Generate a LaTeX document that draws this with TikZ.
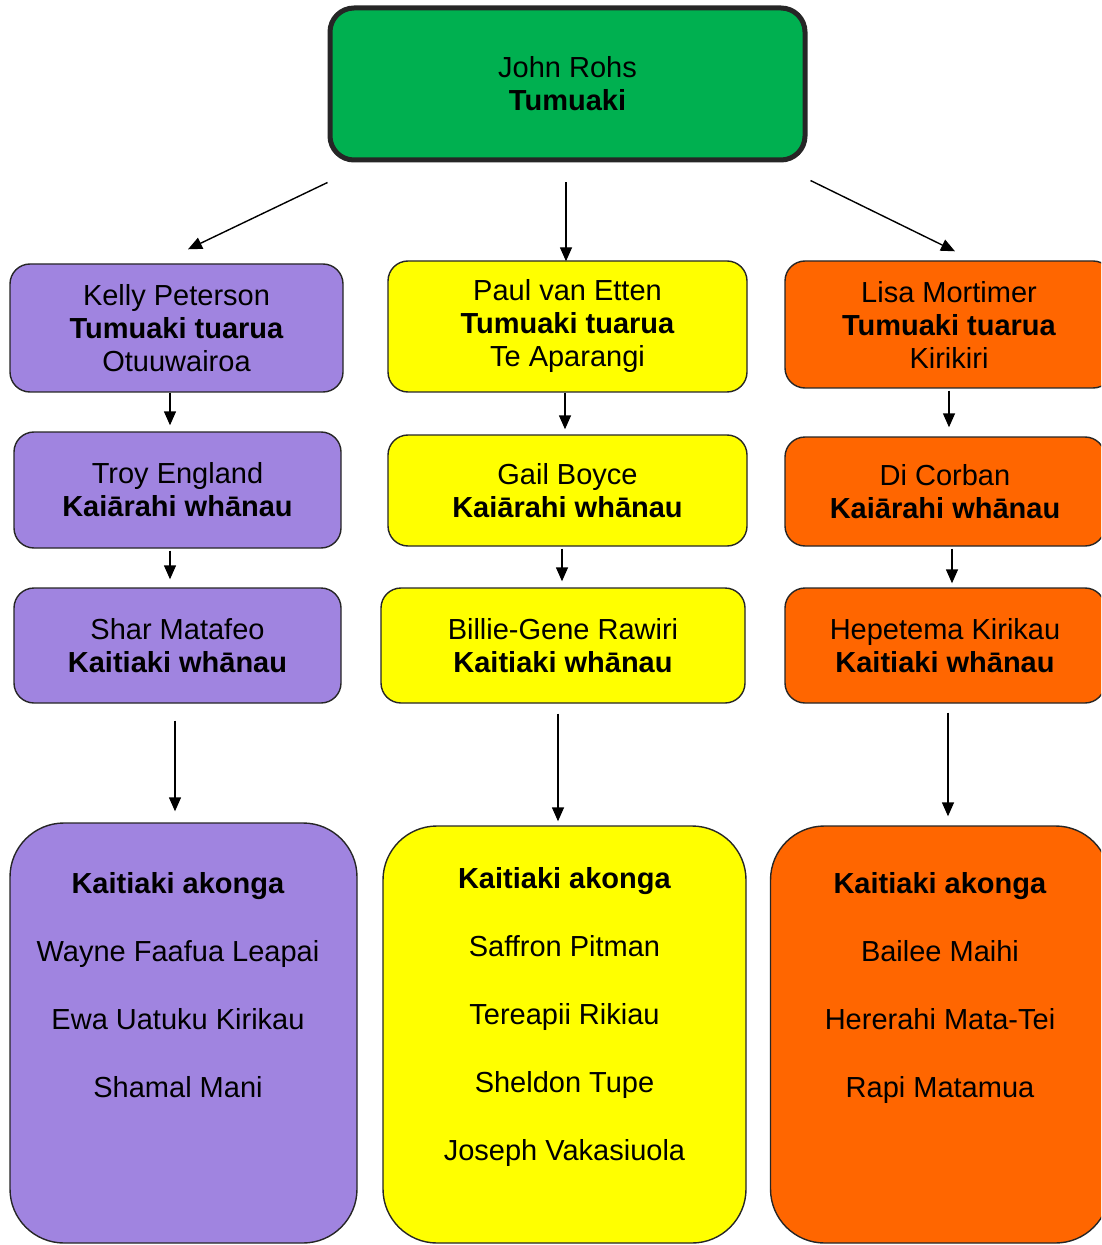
\documentclass[tikz,border=0pt]{standalone}
\usepackage{fontspec}
\setmainfont{Liberation Sans}
\usetikzlibrary{positioning, arrows.meta}

\definecolor{bossgreen}{HTML}{00B050}
\definecolor{otupurple}{HTML}{A084E0}
\definecolor{apayellow}{HTML}{FFFF00}
\definecolor{kiriorange}{HTML}{FF6600}

\tikzset{
  box/.style={draw=black!85, line width=0.7pt, rounded corners=10pt, align=center,
    inner sep=0pt, font=\fontsize{14.5}{16.5}\selectfont},
  bigbox/.style={box, rounded corners=27pt},
  listtext/.style={align=center, inner sep=0pt, font=\fontsize{14.5}{34}\selectfont},
  arr/.style={-{Triangle[length=7pt,width=6pt]}, line width=0.7pt},
}

\begin{document}
\begin{tikzpicture}[x=0.5pt, y=-0.5pt]
    \useasboundingbox (0,0) rectangle (1101,1245);
    \clip (0,0) rectangle (1101,1245);

    % Tumuaki at the top
    \node (boss) [box, fill=bossgreen, line width=2.5pt, rounded corners=12pt,
      minimum width=237.5pt, minimum height=76pt] at (567.5,84) {John Rohs\\\textbf{Tumuaki}};

    % Tumuaki tuarua (one per column)
    \node (kelly) [box, fill=otupurple, minimum width=166.5pt, minimum height=64pt] at (176.5,328)
      {Kelly Peterson\\\textbf{Tumuaki tuarua}\\Otuuwairoa};
    \node (paul) [box, fill=apayellow, minimum width=179.5pt, minimum height=65.5pt] at (567.5,326.5)
      {Paul van Etten\\\textbf{Tumuaki tuarua}\\Te Aparangi};
    \node (lisa) [box, fill=kiriorange, minimum width=164pt, minimum height=63.5pt] at (949,324.5)
      {Lisa Mortimer\\\textbf{Tumuaki tuarua}\\Kirikiri};

    % Kaiarahi whanau
    \node (troy) [box, fill=otupurple, minimum width=163.5pt, minimum height=58pt] at (177.5,490)
      {Troy England\\\textbf{Kaiārahi whānau}};
    \node (gail) [box, fill=apayellow, minimum width=179.5pt, minimum height=55.5pt] at (567.5,490.5)
      {Gail Boyce\\\textbf{Kaiārahi whānau}};
    \node (di) [box, fill=kiriorange, minimum width=160pt, minimum height=54.5pt] at (945,491.5)
      {Di Corban\\\textbf{Kaiārahi whānau}};

    % Kaitiaki whanau
    \node (shar) [box, fill=otupurple, minimum width=163.5pt, minimum height=57.5pt] at (177.5,645.5)
      {Shar Matafeo\\\textbf{Kaitiaki whānau}};
    \node (billie) [box, fill=apayellow, minimum width=182pt, minimum height=57.5pt] at (563,645.5)
      {Billie-Gene Rawiri\\\textbf{Kaitiaki whānau}};
    \node (hep) [box, fill=kiriorange, minimum width=160pt, minimum height=57.5pt] at (945,645.5)
      {Hepetema Kirikau\\\textbf{Kaitiaki whānau}};

    % Kaitiaki akonga boxes and their lists
    \node (akP) [bigbox, fill=otupurple, minimum width=173.5pt, minimum height=210pt] at (183.5,1033) {};
    \node (akY) [bigbox, fill=apayellow, minimum width=181.5pt, minimum height=208.5pt] at (564.5,1034.5) {};
    \node (akO) [bigbox, fill=kiriorange, minimum width=169.5pt, minimum height=208.5pt] at (940,1034.5) {};

    \node (akPlist) [listtext, below=25pt of akP.north, xshift=-2.75pt]
      {\textbf{Kaitiaki akonga}\\Wayne Faafua Leapai\\Ewa Uatuku Kirikau\\Shamal Mani};
    \node (akYlist) [listtext, below=21pt of akY.north]
      {\textbf{Kaitiaki akonga}\\Saffron Pitman\\Tereapii Rikiau\\Sheldon Tupe\\Joseph Vakasiuola};
    \node (akOlist) [listtext, below=23.5pt of akO.north]
      {\textbf{Kaitiaki akonga}\\Bailee Maihi\\Hererahi Mata-Tei\\Rapi Matamua};

    % Arrows from the Tumuaki
    \draw[arr] ([yshift=-10pt]boss.south west) -- ([xshift=5.75pt,yshift=7pt]kelly.north);
    \draw[arr] ([xshift=-0.75pt,yshift=-10pt]boss.south) -- ([xshift=-0.75pt,yshift=-0.5pt]paul.north);
    \draw[arr] ([xshift=1.5pt,yshift=-9pt]boss.south east) -- ([xshift=3pt,yshift=4.5pt]lisa.north);

    % Arrows down each column
    \draw[arr] ([xshift=-3.25pt]kelly.south) -- ([xshift=-3.75pt,yshift=3pt]troy.north);
    \draw[arr] ([xshift=-1.25pt]paul.south) -- ([xshift=-1.25pt,yshift=2.5pt]gail.north);
    \draw[arr] ([yshift=-1pt]lisa.south) -- ([xshift=2pt,yshift=4.5pt]di.north);

    \draw[arr] ([xshift=-3.75pt,yshift=-1pt]troy.south) -- ([xshift=-3.75pt,yshift=4pt]shar.north);
    \draw[arr] ([xshift=-2.75pt,yshift=-1pt]gail.south) -- ([xshift=-0.5pt,yshift=3pt]billie.north);
    \draw[arr] ([xshift=3.5pt,yshift=-1pt]di.south) -- ([xshift=3.5pt,yshift=2pt]hep.north);

    \draw[arr] ([xshift=-1.25pt,yshift=-8.5pt]shar.south) -- ([xshift=-4.25pt,yshift=5.5pt]akP.north);
    \draw[arr] ([xshift=-2.5pt,yshift=-5pt]billie.south) -- ([xshift=-3.25pt,yshift=2pt]akY.north);
    \draw[arr] ([xshift=1.5pt,yshift=-4.5pt]hep.south) -- ([xshift=4pt,yshift=4.5pt]akO.north);

\end{tikzpicture}
\end{document}
